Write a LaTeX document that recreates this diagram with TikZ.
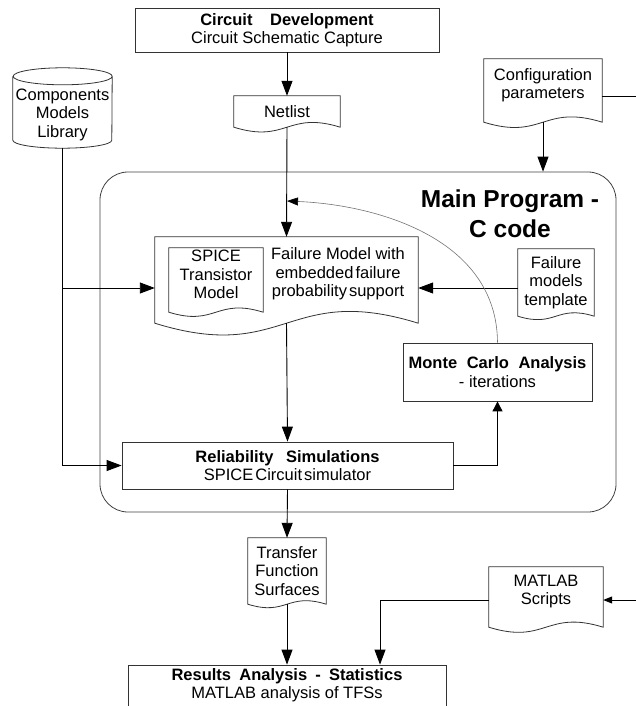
\documentclass[tikz,border=0pt]{standalone}
\usepackage{fontspec}
\setmainfont{Liberation Sans}
\usetikzlibrary{arrows.meta,calc}
\newcommand{\shiftup}[2]{\raisebox{#1}[\height][\depth]{\begin{tabular}{@{}c@{}}#2\end{tabular}}}
\newcommand{\docshape}[1]{\draw[shapeline] (#1.south west) -- (#1.north west) -- (#1.north east) -- (#1.south east) .. controls ($(#1.south)!0.31!90:(#1.south east)$) and ($(#1.south)!0.31!-90:(#1.south east)$) .. cycle;}
\tikzset{
  txt/.style={font=\fontsize{16.5}{18.5}\selectfont, align=center, inner sep=0pt},
  shapeline/.style={draw=black!80, line width=0.8pt},
  boxnode/.style={txt, draw=black!80, line width=0.8pt, rectangle},
  docnode/.style={txt, rectangle},
  conn/.style={draw=black, line width=0.9pt},
  arr/.style={conn, -{Triangle[length=15pt,width=11pt]}},
  smallarr/.style={conn, -{Triangle[length=9pt,width=7pt]}},
  curvearr/.style={draw=black!55, line width=0.6pt, -{Triangle[length=11pt,width=8pt,color=black]}},
}
\begin{document}
\begin{tikzpicture}[x=1pt,y=-1pt]
\useasboundingbox (0,0) rectangle (636,706);

% main program container
\node[draw=black!75, line width=0.8pt, rounded corners=28pt, minimum width=516pt, minimum height=340pt, inner sep=0pt] (main) at (358,342) {};
\node[font=\fontsize{24.5}{30}\selectfont\bfseries, align=center, inner sep=0pt] (mptxt) at (510,214) {Main Program -\\C code};

% top
\node[boxnode, minimum width=304pt, minimum height=44pt] (cd) at (287,30)
  {\textbf{Circuit \hspace{13pt}Development}\\Circuit Schematic Capture};
\node[docnode, minimum width=106pt, minimum height=31pt] (net) at (287,111.5) {Netlist};
\docshape{net}

% components library (stored data)
\node[docnode, minimum width=99pt, minimum height=80pt] (lib) at (62.5,108) {\shiftup{-7pt}{Components\\Models\\Library}};
\draw[shapeline] ($(lib.north west)+(0,8.5)$) -- ($(lib.south west)+(0,-8)$)
  arc[start angle=180,end angle=360,x radius=49.5pt,y radius=8pt]
  -- ($(lib.north east)+(0,8.5)$)
  arc[start angle=0,end angle=180,x radius=49.5pt,y radius=8.5pt]
  arc[start angle=180,end angle=360,x radius=49.5pt,y radius=8.5pt];

% configuration parameters
\node[docnode, minimum width=118pt, minimum height=63pt] (cfg) at (543,90.5) {\shiftup{4.5pt}{Configuration\\parameters}};
\docshape{cfg}

% failure model
\node[docnode, minimum width=263pt, minimum height=86pt] (fm) at (286.5,280) {};
\docshape{fm}
\node[docnode, minimum width=94pt, minimum height=64pt] (spice) at (216,280) {\shiftup{3.5pt}{SPICE\\Transistor\\Model}};
\docshape{spice}
\node[txt] (fmtxt) at (338,274) {Failure Model with\\embedded\hspace{2pt}failure\\probability\hspace{2pt}support};

% failure models template
\node[docnode, minimum width=76pt, minimum height=67pt] (tpl) at (556,282.5) {Failure\\models\\template};
\docshape{tpl}

% monte carlo
\node[boxnode, minimum width=189pt, minimum height=58pt] (mc) at (497.5,372)
  {\textbf{Monte \hspace{5pt}Carlo \hspace{5pt}Analysis}\\- iterations};

% reliability
\node[boxnode, minimum width=331pt, minimum height=47pt] (rel) at (287.5,465.5)
  {\textbf{Reliability \hspace{8pt}Simulations}\\SPICE\hspace{2pt}Circuit\hspace{2pt}simulator};

% transfer function surfaces
\node[docnode, minimum width=78pt, minimum height=66pt] (tfs) at (287,571) {Transfer\\Function\\Surfaces};
\docshape{tfs}

% matlab scripts
\node[docnode, minimum width=114pt, minimum height=60pt] (ms) at (546,597) {\shiftup{5pt}{MATLAB\\Scripts}};
\docshape{ms}

% results
\node[boxnode, minimum width=318pt, minimum height=47pt] (res) at (287,688.5)
  {\shiftup{2.5pt}{\textbf{Results \hspace{3.6pt}Analysis \hspace{3.6pt}- \hspace{3.6pt}Statistics}\\MATLAB analysis of TFSs}};

% connectors
\coordinate (cfgout) at (636,96);
\coordinate (br) at (lib.south |- 0,288);
\coordinate (cj) at (net.south |- 0,201);
\coordinate (msin) at (636,600);

\draw[arr] (cd.south) -- (net.north);
\draw[arr] (net.south) -- (fm.north);
\draw[arr] (cfg.south) -- (cfg.south |- main.north);
\draw[conn] (cfg.east |- cfgout) -- (cfgout);
\draw[arr] (lib.south) |- (rel.west);
\draw[arr] (br) -- (fm.west |- br);
\draw[arr] (tpl.west |- br) -- (fm.east |- br);
\draw[arr] (fm.south) -- (rel.north);
\draw[conn, -{Triangle[length=10pt,width=10pt]}] (rel.east) -| (mc.south);
\draw[curvearr] (mc.north) .. controls (497,240) and (380,205) .. (cj);
\draw[arr] (rel.south) -- (tfs.north);
\draw[arr] (tfs.south) -- (res.north);
\draw[smallarr] (msin) -- (ms.east |- msin);
\draw[arr] (ms.west |- msin) -| ($(res.north)+(93,0)$);
\end{tikzpicture}
\end{document}
